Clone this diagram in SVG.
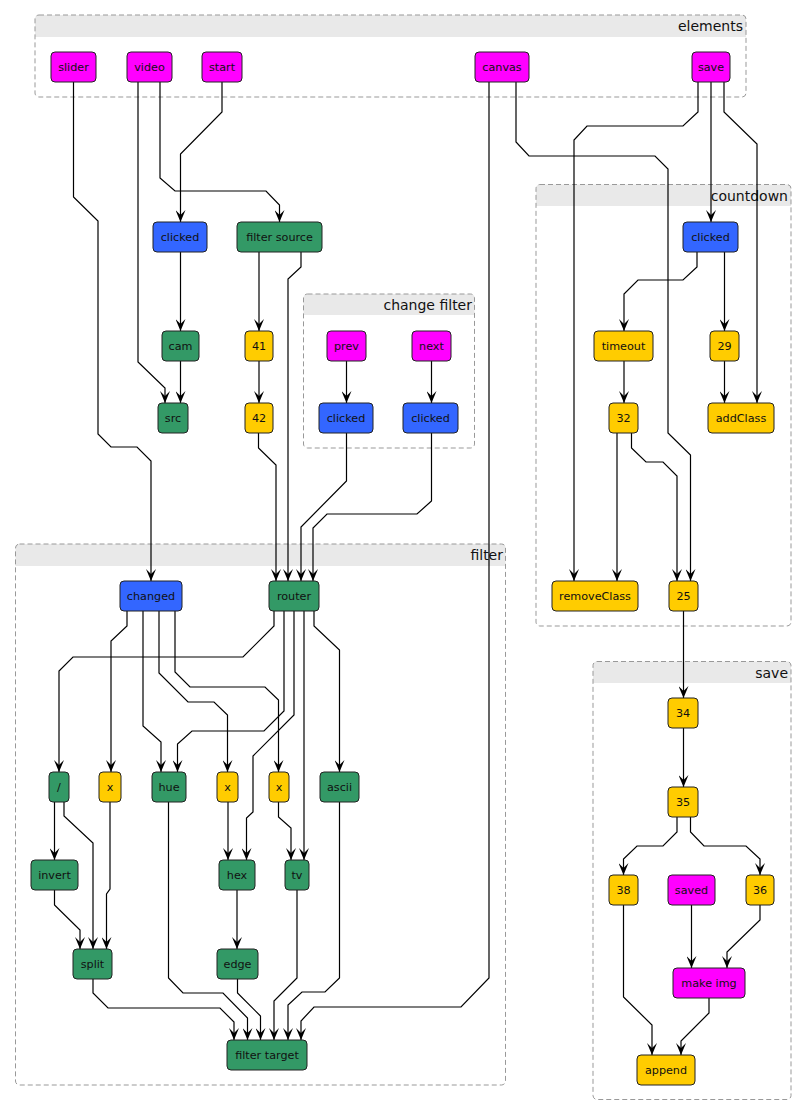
<svg xmlns="http://www.w3.org/2000/svg" width="806" height="1116" viewBox="0 0 806 1116">
<style>
.grp{fill:none;stroke:#999;stroke-width:1;stroke-dasharray:5,3}
.hdr{fill:#e9e9e9}
.gt{font-family:"DejaVu Sans",sans-serif;font-size:14px;fill:#111;text-anchor:end}
.n rect{stroke:#222;stroke-width:1}
.n text{font-family:"DejaVu Sans",sans-serif;font-size:11.2px;fill:#111;text-anchor:middle}
.m rect{fill:#ff00ff}.b rect{fill:#3366ff}.g rect{fill:#339966}.y rect{fill:#ffcc00}
#edges polyline{fill:none;stroke:#000;stroke-width:1.2;marker-end:url(#ah)}
</style>
<defs>
<marker id="ah" markerWidth="12" markerHeight="10" refX="12" refY="5" orient="auto" markerUnits="userSpaceOnUse"><path d="M0,0 L12,5 L0,10 L5,5 Z" fill="#000"/></marker>
</defs>
<rect width="806" height="1116" fill="#fff"/>
<g id="groups">
<g id="g-elements"><path class="hdr" d="M35,37 V19 a4,4 0 0 1 4,-4 H742 a4,4 0 0 1 4,4 V37 Z"/><rect class="grp" x="35" y="15" width="711" height="82" rx="4"/><text class="gt" x="743" y="31">elements</text></g>
<g id="g-countdown"><path class="hdr" d="M536,206 V188.5 a4,4 0 0 1 4,-4 H787 a4,4 0 0 1 4,4 V206 Z"/><rect class="grp" x="536" y="184.5" width="255" height="441.5" rx="4"/><text class="gt" x="788" y="201">countdown</text></g>
<g id="g-change"><path class="hdr" d="M303.5,315 V298 a4,4 0 0 1 4,-4 H470.5 a4,4 0 0 1 4,4 V315 Z"/><rect class="grp" x="303.5" y="294" width="171" height="154" rx="4"/><text class="gt" x="472" y="310">change filter</text></g>
<g id="g-filter"><path class="hdr" d="M15.5,566 V548 a4,4 0 0 1 4,-4 H501.5 a4,4 0 0 1 4,4 V566 Z"/><rect class="grp" x="15.5" y="544" width="490" height="541" rx="4"/><text class="gt" x="503" y="560">filter</text></g>
<g id="g-save"><path class="hdr" d="M593,683 V665.5 a4,4 0 0 1 4,-4 H787 a4,4 0 0 1 4,4 V683 Z"/><rect class="grp" x="593" y="661.5" width="198" height="438" rx="4"/><text class="gt" x="788" y="678">save</text></g>
</g>
<g id="edges">
<polyline points="73.5,82 73.5,197 98,221 98,434 111,447 137,447 151,461 151,581"/>
<polyline points="138,82 138,362 165,388 165,403"/>
<polyline points="160,82 160,178 175,191 266,191 279.5,205 279.5,222"/>
<polyline points="222,82 222,112 180.5,154 180.5,222"/>
<polyline points="180.5,252 180.5,331"/>
<polyline points="180.5,361 180.5,403"/>
<polyline points="259,252 259,331"/>
<polyline points="301,252 301,267 288,279 288,581"/>
<polyline points="259,361 259,403"/>
<polyline points="258.5,433 258.5,448 276,465 276,581"/>
<polyline points="346.5,361 346.5,403"/>
<polyline points="431.5,361 431.5,403"/>
<polyline points="346.5,433 346.5,481 301,527 301,581"/>
<polyline points="431.5,433 431.5,501 417,514 327,514 313,528 313,581"/>
<polyline points="489,82 489,978 461,1007 314,1007 301,1021 301,1040"/>
<polyline points="516,82 516,142 529,156 655,156 668,169 668,433 690.5,455 690.5,581"/>
<polyline points="698,82 698,112 683,126 587,126 574,140 574,581"/>
<polyline points="711,82 711,222"/>
<polyline points="724,82 724,112 757,144 757,403"/>
<polyline points="697,252 697,267 683,280 638,280 624,294 624,331"/>
<polyline points="724.5,252 724.5,331"/>
<polyline points="624,361 624,403"/>
<polyline points="724.5,361 724.5,403"/>
<polyline points="617,433 617,581"/>
<polyline points="631.5,433 631.5,448 646,462 663,462 677,476 677,581"/>
<polyline points="683.5,611 683.5,698"/>
<polyline points="683.5,728 683.5,787"/>
<polyline points="677,817 677,832 663,846 637,846 623.5,859 623.5,875"/>
<polyline points="690.5,817 690.5,832 704,846 746,846 760,859 760,875"/>
<polyline points="691.5,905 691.5,968"/>
<polyline points="760,905 760,920 727,952 727,968"/>
<polyline points="623.5,905 623.5,997 652,1025 652,1055"/>
<polyline points="709,998 709,1013 681,1041 681,1055"/>
<polyline points="127,611 127,626 111,641 111,772"/>
<polyline points="143,611 143,726 161,742 161,772"/>
<polyline points="159,611 159,673 188,702 214,702 227.5,715 227.5,772"/>
<polyline points="175,611 175,672 190,687 265,687 278.5,700 278.5,772"/>
<polyline points="274,611 274,626 243,657 73,657 59,671 59,772"/>
<polyline points="284,611 284,711 264,731 192,731 177.5,744 177.5,772"/>
<polyline points="294,611 294,715 253,756 253,812 246.5,818 246.5,860"/>
<polyline points="304,611 304,860"/>
<polyline points="314,611 314,626 339.5,650 339.5,772"/>
<polyline points="54.5,802 54.5,860"/>
<polyline points="64,802 64,816 93,843 93,949"/>
<polyline points="110,802 110,889 106.5,894 106.5,949"/>
<polyline points="54.5,890 54.5,905 80,930 80,949"/>
<polyline points="228,802 228,860"/>
<polyline points="278.5,802 278.5,817 291,828 291,860"/>
<polyline points="237,890 237,949"/>
<polyline points="168.5,802 168.5,978 183,993 223,993 247.5,1018 247.5,1040"/>
<polyline points="93,979 93,993 108,1008 220,1008 234,1022 234,1040"/>
<polyline points="237.5,979 237.5,993 260.5,1016 260.5,1040"/>
<polyline points="297,890 297,978 274,1001 274,1040"/>
<polyline points="339.5,802 339.5,978 325,992 302,992 288,1005 288,1040"/>
</g>
<g id="nodes">
<g id="slider" class="n m"><rect x="51" y="52" width="45" height="30" rx="4"/><text x="73.5" y="71">slider</text></g>
<g id="video" class="n m"><rect x="127" y="52" width="45" height="30" rx="4"/><text x="149.5" y="71">video</text></g>
<g id="start" class="n m"><rect x="202" y="52" width="40" height="30" rx="4"/><text x="222" y="71">start</text></g>
<g id="canvas" class="n m"><rect x="475" y="52" width="54" height="30" rx="4"/><text x="502" y="71">canvas</text></g>
<g id="save" class="n m"><rect x="692" y="52" width="38" height="30" rx="4"/><text x="711" y="71">save</text></g>
<g id="clicked-start" class="n b"><rect x="153" y="222" width="54" height="30" rx="4"/><text x="180" y="241">clicked</text></g>
<g id="filter-source" class="n g"><rect x="237" y="222" width="85" height="30" rx="4"/><text x="279.5" y="241">filter source</text></g>
<g id="cam" class="n g"><rect x="162" y="331" width="37" height="30" rx="4"/><text x="180.5" y="350">cam</text></g>
<g id="n41" class="n y"><rect x="245" y="331" width="28" height="30" rx="4"/><text x="259" y="350">41</text></g>
<g id="src" class="n g"><rect x="158" y="403" width="30" height="30" rx="4"/><text x="173" y="422">src</text></g>
<g id="n42" class="n y"><rect x="245" y="403" width="28" height="30" rx="4"/><text x="259" y="422">42</text></g>
<g id="prev" class="n m"><rect x="327" y="331" width="39" height="30" rx="4"/><text x="346.5" y="350">prev</text></g>
<g id="next" class="n m"><rect x="412" y="331" width="39" height="30" rx="4"/><text x="431.5" y="350">next</text></g>
<g id="clicked-prev" class="n b"><rect x="319" y="403" width="54" height="30" rx="4"/><text x="346" y="422">clicked</text></g>
<g id="clicked-next" class="n b"><rect x="403" y="403" width="55" height="30" rx="4"/><text x="430.5" y="422">clicked</text></g>
<g id="clicked-save" class="n b"><rect x="683" y="222" width="55" height="30" rx="4"/><text x="710.5" y="241">clicked</text></g>
<g id="timeout" class="n y"><rect x="594" y="331" width="59" height="30" rx="4"/><text x="623.5" y="350">timeout</text></g>
<g id="n29" class="n y"><rect x="710" y="331" width="29" height="30" rx="4"/><text x="724.5" y="350">29</text></g>
<g id="n32" class="n y"><rect x="609" y="403" width="29" height="30" rx="4"/><text x="623.5" y="422">32</text></g>
<g id="addClass" class="n y"><rect x="708" y="403" width="66" height="30" rx="4"/><text x="741" y="422">addClass</text></g>
<g id="removeClass" class="n y"><rect x="552" y="581" width="86" height="30" rx="4"/><text x="595" y="600">removeClass</text></g>
<g id="n25" class="n y"><rect x="669" y="581" width="29" height="30" rx="4"/><text x="683.5" y="600">25</text></g>
<g id="changed" class="n b"><rect x="120" y="581" width="62" height="30" rx="4"/><text x="151" y="600">changed</text></g>
<g id="router" class="n g"><rect x="269" y="581" width="50" height="30" rx="4"/><text x="294" y="600">router</text></g>
<g id="slash" class="n g"><rect x="49" y="772" width="20" height="30" rx="4"/><text x="59" y="791">/</text></g>
<g id="x1" class="n y"><rect x="99" y="772" width="22" height="30" rx="4"/><text x="110" y="791">x</text></g>
<g id="hue" class="n g"><rect x="152" y="772" width="34" height="30" rx="4"/><text x="169" y="791">hue</text></g>
<g id="x2" class="n y"><rect x="217" y="772" width="21" height="30" rx="4"/><text x="227.5" y="791">x</text></g>
<g id="x3" class="n y"><rect x="269" y="772" width="20" height="30" rx="4"/><text x="279" y="791">x</text></g>
<g id="ascii" class="n g"><rect x="320" y="772" width="39" height="30" rx="4"/><text x="339.5" y="791">ascii</text></g>
<g id="invert" class="n g"><rect x="31" y="860" width="47" height="30" rx="4"/><text x="54.5" y="879">invert</text></g>
<g id="hex" class="n g"><rect x="219" y="860" width="36" height="30" rx="4"/><text x="237" y="879">hex</text></g>
<g id="tv" class="n g"><rect x="285" y="860" width="24" height="30" rx="4"/><text x="297" y="879">tv</text></g>
<g id="split" class="n g"><rect x="73" y="949" width="39" height="30" rx="4"/><text x="92.5" y="968">split</text></g>
<g id="edge" class="n g"><rect x="217" y="949" width="41" height="30" rx="4"/><text x="237.5" y="968">edge</text></g>
<g id="filter-target" class="n g"><rect x="227" y="1040" width="80" height="30" rx="4"/><text x="267" y="1059">filter target</text></g>
<g id="n34" class="n y"><rect x="668" y="698" width="30" height="30" rx="4"/><text x="683" y="717">34</text></g>
<g id="n35" class="n y"><rect x="668" y="787" width="30" height="30" rx="4"/><text x="683" y="806">35</text></g>
<g id="n38" class="n y"><rect x="609" y="875" width="29" height="30" rx="4"/><text x="623.5" y="894">38</text></g>
<g id="saved" class="n m"><rect x="668" y="875" width="47" height="30" rx="4"/><text x="691.5" y="894">saved</text></g>
<g id="n36" class="n y"><rect x="746" y="875" width="28" height="30" rx="4"/><text x="760" y="894">36</text></g>
<g id="make-img" class="n m"><rect x="673" y="968" width="72" height="30" rx="4"/><text x="709" y="987">make img</text></g>
<g id="append" class="n y"><rect x="637" y="1055" width="58" height="30" rx="4"/><text x="666" y="1074">append</text></g>
</g>
</svg>
